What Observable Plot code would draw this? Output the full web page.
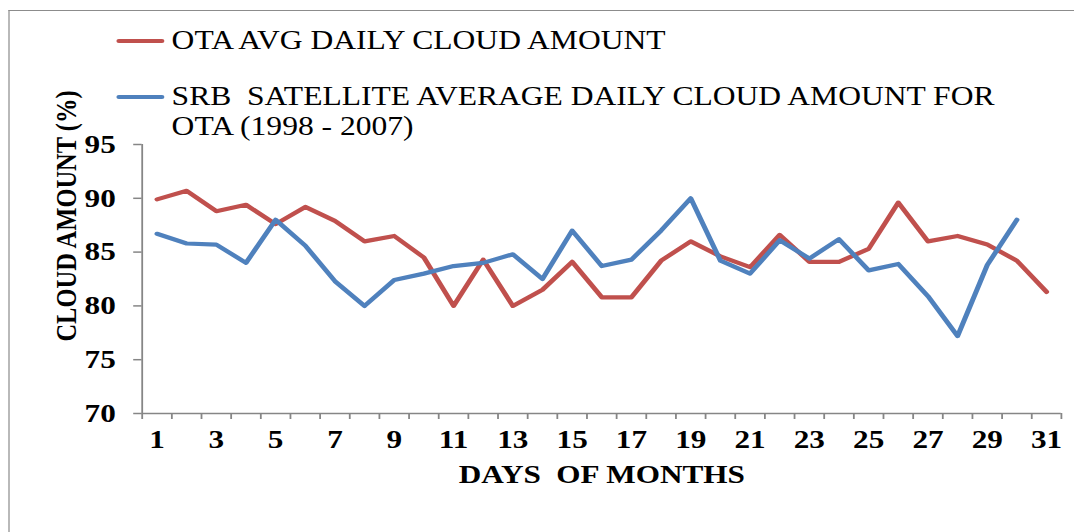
<!DOCTYPE html>
<html>
<head>
<meta charset="utf-8">
<script src="https://cdn.jsdelivr.net/npm/d3@7"></script>
<script src="https://cdn.jsdelivr.net/npm/@observablehq/plot@0.6"></script>
<style>
  html, body { margin: 0; padding: 0; background: #fff; overflow: hidden; }
  #wrap { position: relative; width: 895px; height: 532px; transform: scaleX(1.2); transform-origin: 0 0; font-family: 'Liberation Serif', 'Times New Roman', serif; }
  #frame { position: absolute; left: 7px; top: 10px; right: -10px; bottom: -10px; border-left: 1.5px solid #8c8c8c; border-top: 1.5px solid #8c8c8c; }
  #chart { position: absolute; left: 0; top: 0; }
  svg text { white-space: pre; }
  .leg { position: absolute; left: 97px; font-size: 26.3px; line-height: 30px; color: #000; white-space: pre; }
  .sw { position: absolute; left: 0; width: 40px; height: 4px; border-radius: 2px; }
  .lt { position: absolute; left: 46px; top: 0; }
</style>
</head>
<body>
<div id="wrap">
  <div id="frame"></div>
  <div id="chart"></div>
  <div id="legend"></div>
</div>
<script>
// ---- data ----
const days = [1,2,3,4,5,6,7,8,9,10,11,12,13,14,15,16,17,18,19,20,21,22,23,24,25,26,27,28,29,30,31];
const otaAvg = [89.9, 90.7, 88.8, 89.4, 87.6, 89.2, 87.9, 86.0, 86.5, 84.5, 80.0, 84.3, 80.0, 81.5, 84.1, 80.8, 80.8, 84.2, 86.0, 84.6, 83.6, 86.6, 84.1, 84.1, 85.3, 89.6, 86.0, 86.5, 85.7, 84.2, 81.3];
const srbAvg = [86.7, 85.8, 85.7, 84.0, 88.0, 85.6, 82.3, 80.0, 82.4, 83.0, 83.7, 84.0, 84.8, 82.5, 87.0, 83.7, 84.3, 87.0, 90.0, 84.2, 83.0, 86.1, 84.4, 86.2, 83.3, 83.9, 80.9, 77.2, 83.8, 88.0];
const seriesNames = ["OTA AVG DAILY CLOUD AMOUNT", "SRB  SATELLITE AVERAGE DAILY CLOUD AMOUNT FOR\nOTA (1998 - 2007)"];
const seriesColors = ["#C0504D", "#4F81BD"];
const yTicks = [70, 75, 80, 85, 90, 95];
const xTickLabels = [1,3,5,7,9,11,13,15,17,19,21,23,25,27,29,31];
const xTitle = "DAYS  OF MONTHS";
const yTitle = "CLOUD AMOUNT (%)";

// ---- tables ----
const otaRows = otaAvg.map((v, i) => ({day: days[i], value: v}));
const srbRows = srbAvg.map((v, i) => ({day: days[i], value: v}));
const boundaries = [0, ...days].map(d => d + 0.5);

const axisGray = "#868686";
const font = "'Liberation Serif', 'Times New Roman', serif";

const chart = Plot.plot({
  width: 895,
  height: 532,
  marginLeft: 118,
  marginRight: 11,
  marginTop: 144,
  marginBottom: 119,
  style: {fontFamily: font, background: "transparent", color: "#000"},
  x: {type: "linear", domain: [0.5, 31.5]},
  y: {domain: [70, 95]},
  marks: [
    Plot.ruleY([70], {stroke: axisGray, strokeWidth: 1.5}),
    Plot.ruleX([0.5], {stroke: axisGray, strokeWidth: 1.5}),
    Plot.axisY({ticks: yTicks, tickSize: 7, tickPadding: 15, stroke: axisGray, strokeWidth: 1.5, fontSize: 26, fontWeight: "bold", fill: "#000", label: null}),
    Plot.axisX({ticks: boundaries, tickSize: 6, tickFormat: () => "", stroke: axisGray, strokeWidth: 1.5, label: null}),
    Plot.axisX({ticks: xTickLabels, tickSize: 0, tickPadding: 16, fontSize: 26, fontWeight: "bold", fill: "#000", label: null}),
    Plot.line(otaRows, {x: "day", y: "value", stroke: seriesColors[0], strokeWidth: 4.2, strokeLinejoin: "round", strokeLinecap: "round"}),
    Plot.line(srbRows, {x: "day", y: "value", stroke: seriesColors[1], strokeWidth: 4.2, strokeLinejoin: "round", strokeLinecap: "round"}),
    Plot.text([xTitle], {frameAnchor: "bottom", lineAnchor: "middle", textAnchor: "middle", dy: 61, fontSize: 26, fontWeight: "bold", fill: "#000"}),
    Plot.text([yTitle], {frameAnchor: "left", lineAnchor: "middle", textAnchor: "middle", rotate: -90, dx: -63, dy: -63, fontSize: 24.5, fontWeight: "bold", fill: "#000"})
  ]
});
document.getElementById("chart").appendChild(chart);

// ---- legend ----
const legend = document.getElementById("legend");
const legendTops = [26, 82];
seriesNames.forEach((name, i) => {
  const item = document.createElement("div");
  item.className = "leg";
  item.style.top = legendTops[i] + "px";
  const sw = document.createElement("div");
  sw.className = "sw";
  sw.style.background = seriesColors[i];
  sw.style.top = "13px";
  const t = document.createElement("div");
  t.className = "lt";
  t.textContent = name;
  item.appendChild(sw);
  item.appendChild(t);
  legend.appendChild(item);
});
</script>
</body>
</html>
